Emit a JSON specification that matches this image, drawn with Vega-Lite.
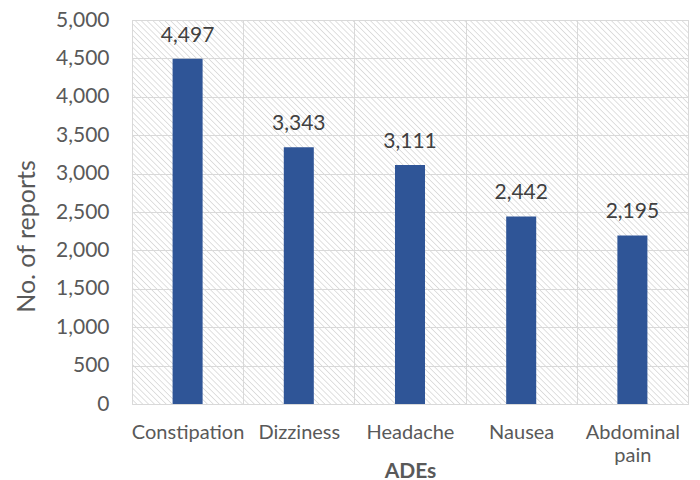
{
  "$schema": "https://vega.github.io/schema/vega-lite/v6.json",
  "width": 556,
  "height": 384,
  "autosize": "none",
  "padding": {"left": 132, "top": 20, "right": 12, "bottom": 76},
  "background": "white",
  "config": {
    "font": "Lato",
    "view": {
      "stroke": "#d9d9d9",
      "fill": {
        "gradient": "linear", "x1": 0, "y1": 1, "x2": 1.145, "y2": 0.209,
        "stops": [
{"offset":0,"color":"#fff"},{"offset":0.00375,"color":"#fff"},{"offset":0.005,"color":"#dadada"},{"offset":0.00625,"color":"#fff"},{"offset":0.01,"color":"#fff"},{"offset":0.01125,"color":"#dadada"},{"offset":0.0125,"color":"#fff"},{"offset":0.01625,"color":"#fff"},{"offset":0.0175,"color":"#dadada"},{"offset":0.01875,"color":"#fff"},{"offset":0.0225,"color":"#fff"},{"offset":0.02375,"color":"#dadada"},
{"offset":0.025,"color":"#fff"},{"offset":0.02875,"color":"#fff"},{"offset":0.03,"color":"#dadada"},{"offset":0.03125,"color":"#fff"},{"offset":0.035,"color":"#fff"},{"offset":0.03625,"color":"#dadada"},{"offset":0.0375,"color":"#fff"},{"offset":0.04125,"color":"#fff"},{"offset":0.0425,"color":"#dadada"},{"offset":0.04375,"color":"#fff"},{"offset":0.0475,"color":"#fff"},{"offset":0.04875,"color":"#dadada"},
{"offset":0.05,"color":"#fff"},{"offset":0.05375,"color":"#fff"},{"offset":0.055,"color":"#dadada"},{"offset":0.05625,"color":"#fff"},{"offset":0.06,"color":"#fff"},{"offset":0.06125,"color":"#dadada"},{"offset":0.0625,"color":"#fff"},{"offset":0.06625,"color":"#fff"},{"offset":0.0675,"color":"#dadada"},{"offset":0.06875,"color":"#fff"},{"offset":0.0725,"color":"#fff"},{"offset":0.07375,"color":"#dadada"},
{"offset":0.075,"color":"#fff"},{"offset":0.07875,"color":"#fff"},{"offset":0.08,"color":"#dadada"},{"offset":0.08125,"color":"#fff"},{"offset":0.085,"color":"#fff"},{"offset":0.08625,"color":"#dadada"},{"offset":0.0875,"color":"#fff"},{"offset":0.09125,"color":"#fff"},{"offset":0.0925,"color":"#dadada"},{"offset":0.09375,"color":"#fff"},{"offset":0.0975,"color":"#fff"},{"offset":0.09875,"color":"#dadada"},
{"offset":0.1,"color":"#fff"},{"offset":0.10375,"color":"#fff"},{"offset":0.105,"color":"#dadada"},{"offset":0.10625,"color":"#fff"},{"offset":0.11,"color":"#fff"},{"offset":0.11125,"color":"#dadada"},{"offset":0.1125,"color":"#fff"},{"offset":0.11625,"color":"#fff"},{"offset":0.1175,"color":"#dadada"},{"offset":0.11875,"color":"#fff"},{"offset":0.1225,"color":"#fff"},{"offset":0.12375,"color":"#dadada"},
{"offset":0.125,"color":"#fff"},{"offset":0.12875,"color":"#fff"},{"offset":0.13,"color":"#dadada"},{"offset":0.13125,"color":"#fff"},{"offset":0.135,"color":"#fff"},{"offset":0.13625,"color":"#dadada"},{"offset":0.1375,"color":"#fff"},{"offset":0.14125,"color":"#fff"},{"offset":0.1425,"color":"#dadada"},{"offset":0.14375,"color":"#fff"},{"offset":0.1475,"color":"#fff"},{"offset":0.14875,"color":"#dadada"},
{"offset":0.15,"color":"#fff"},{"offset":0.15375,"color":"#fff"},{"offset":0.155,"color":"#dadada"},{"offset":0.15625,"color":"#fff"},{"offset":0.16,"color":"#fff"},{"offset":0.16125,"color":"#dadada"},{"offset":0.1625,"color":"#fff"},{"offset":0.16625,"color":"#fff"},{"offset":0.1675,"color":"#dadada"},{"offset":0.16875,"color":"#fff"},{"offset":0.1725,"color":"#fff"},{"offset":0.17375,"color":"#dadada"},
{"offset":0.175,"color":"#fff"},{"offset":0.17875,"color":"#fff"},{"offset":0.18,"color":"#dadada"},{"offset":0.18125,"color":"#fff"},{"offset":0.185,"color":"#fff"},{"offset":0.18625,"color":"#dadada"},{"offset":0.1875,"color":"#fff"},{"offset":0.19125,"color":"#fff"},{"offset":0.1925,"color":"#dadada"},{"offset":0.19375,"color":"#fff"},{"offset":0.1975,"color":"#fff"},{"offset":0.19875,"color":"#dadada"},
{"offset":0.2,"color":"#fff"},{"offset":0.20375,"color":"#fff"},{"offset":0.205,"color":"#dadada"},{"offset":0.20625,"color":"#fff"},{"offset":0.21,"color":"#fff"},{"offset":0.21125,"color":"#dadada"},{"offset":0.2125,"color":"#fff"},{"offset":0.21625,"color":"#fff"},{"offset":0.2175,"color":"#dadada"},{"offset":0.21875,"color":"#fff"},{"offset":0.2225,"color":"#fff"},{"offset":0.22375,"color":"#dadada"},
{"offset":0.225,"color":"#fff"},{"offset":0.22875,"color":"#fff"},{"offset":0.23,"color":"#dadada"},{"offset":0.23125,"color":"#fff"},{"offset":0.235,"color":"#fff"},{"offset":0.23625,"color":"#dadada"},{"offset":0.2375,"color":"#fff"},{"offset":0.24125,"color":"#fff"},{"offset":0.2425,"color":"#dadada"},{"offset":0.24375,"color":"#fff"},{"offset":0.2475,"color":"#fff"},{"offset":0.24875,"color":"#dadada"},
{"offset":0.25,"color":"#fff"},{"offset":0.25375,"color":"#fff"},{"offset":0.255,"color":"#dadada"},{"offset":0.25625,"color":"#fff"},{"offset":0.26,"color":"#fff"},{"offset":0.26125,"color":"#dadada"},{"offset":0.2625,"color":"#fff"},{"offset":0.26625,"color":"#fff"},{"offset":0.2675,"color":"#dadada"},{"offset":0.26875,"color":"#fff"},{"offset":0.2725,"color":"#fff"},{"offset":0.27375,"color":"#dadada"},
{"offset":0.275,"color":"#fff"},{"offset":0.27875,"color":"#fff"},{"offset":0.28,"color":"#dadada"},{"offset":0.28125,"color":"#fff"},{"offset":0.285,"color":"#fff"},{"offset":0.28625,"color":"#dadada"},{"offset":0.2875,"color":"#fff"},{"offset":0.29125,"color":"#fff"},{"offset":0.2925,"color":"#dadada"},{"offset":0.29375,"color":"#fff"},{"offset":0.2975,"color":"#fff"},{"offset":0.29875,"color":"#dadada"},
{"offset":0.3,"color":"#fff"},{"offset":0.30375,"color":"#fff"},{"offset":0.305,"color":"#dadada"},{"offset":0.30625,"color":"#fff"},{"offset":0.31,"color":"#fff"},{"offset":0.31125,"color":"#dadada"},{"offset":0.3125,"color":"#fff"},{"offset":0.31625,"color":"#fff"},{"offset":0.3175,"color":"#dadada"},{"offset":0.31875,"color":"#fff"},{"offset":0.3225,"color":"#fff"},{"offset":0.32375,"color":"#dadada"},
{"offset":0.325,"color":"#fff"},{"offset":0.32875,"color":"#fff"},{"offset":0.33,"color":"#dadada"},{"offset":0.33125,"color":"#fff"},{"offset":0.335,"color":"#fff"},{"offset":0.33625,"color":"#dadada"},{"offset":0.3375,"color":"#fff"},{"offset":0.34125,"color":"#fff"},{"offset":0.3425,"color":"#dadada"},{"offset":0.34375,"color":"#fff"},{"offset":0.3475,"color":"#fff"},{"offset":0.34875,"color":"#dadada"},
{"offset":0.35,"color":"#fff"},{"offset":0.35375,"color":"#fff"},{"offset":0.355,"color":"#dadada"},{"offset":0.35625,"color":"#fff"},{"offset":0.36,"color":"#fff"},{"offset":0.36125,"color":"#dadada"},{"offset":0.3625,"color":"#fff"},{"offset":0.36625,"color":"#fff"},{"offset":0.3675,"color":"#dadada"},{"offset":0.36875,"color":"#fff"},{"offset":0.3725,"color":"#fff"},{"offset":0.37375,"color":"#dadada"},
{"offset":0.375,"color":"#fff"},{"offset":0.37875,"color":"#fff"},{"offset":0.38,"color":"#dadada"},{"offset":0.38125,"color":"#fff"},{"offset":0.385,"color":"#fff"},{"offset":0.38625,"color":"#dadada"},{"offset":0.3875,"color":"#fff"},{"offset":0.39125,"color":"#fff"},{"offset":0.3925,"color":"#dadada"},{"offset":0.39375,"color":"#fff"},{"offset":0.3975,"color":"#fff"},{"offset":0.39875,"color":"#dadada"},
{"offset":0.4,"color":"#fff"},{"offset":0.40375,"color":"#fff"},{"offset":0.405,"color":"#dadada"},{"offset":0.40625,"color":"#fff"},{"offset":0.41,"color":"#fff"},{"offset":0.41125,"color":"#dadada"},{"offset":0.4125,"color":"#fff"},{"offset":0.41625,"color":"#fff"},{"offset":0.4175,"color":"#dadada"},{"offset":0.41875,"color":"#fff"},{"offset":0.4225,"color":"#fff"},{"offset":0.42375,"color":"#dadada"},
{"offset":0.425,"color":"#fff"},{"offset":0.42875,"color":"#fff"},{"offset":0.43,"color":"#dadada"},{"offset":0.43125,"color":"#fff"},{"offset":0.435,"color":"#fff"},{"offset":0.43625,"color":"#dadada"},{"offset":0.4375,"color":"#fff"},{"offset":0.44125,"color":"#fff"},{"offset":0.4425,"color":"#dadada"},{"offset":0.44375,"color":"#fff"},{"offset":0.4475,"color":"#fff"},{"offset":0.44875,"color":"#dadada"},
{"offset":0.45,"color":"#fff"},{"offset":0.45375,"color":"#fff"},{"offset":0.455,"color":"#dadada"},{"offset":0.45625,"color":"#fff"},{"offset":0.46,"color":"#fff"},{"offset":0.46125,"color":"#dadada"},{"offset":0.4625,"color":"#fff"},{"offset":0.46625,"color":"#fff"},{"offset":0.4675,"color":"#dadada"},{"offset":0.46875,"color":"#fff"},{"offset":0.4725,"color":"#fff"},{"offset":0.47375,"color":"#dadada"},
{"offset":0.475,"color":"#fff"},{"offset":0.47875,"color":"#fff"},{"offset":0.48,"color":"#dadada"},{"offset":0.48125,"color":"#fff"},{"offset":0.485,"color":"#fff"},{"offset":0.48625,"color":"#dadada"},{"offset":0.4875,"color":"#fff"},{"offset":0.49125,"color":"#fff"},{"offset":0.4925,"color":"#dadada"},{"offset":0.49375,"color":"#fff"},{"offset":0.4975,"color":"#fff"},{"offset":0.49875,"color":"#dadada"},
{"offset":0.5,"color":"#fff"},{"offset":0.50375,"color":"#fff"},{"offset":0.505,"color":"#dadada"},{"offset":0.50625,"color":"#fff"},{"offset":0.51,"color":"#fff"},{"offset":0.51125,"color":"#dadada"},{"offset":0.5125,"color":"#fff"},{"offset":0.51625,"color":"#fff"},{"offset":0.5175,"color":"#dadada"},{"offset":0.51875,"color":"#fff"},{"offset":0.5225,"color":"#fff"},{"offset":0.52375,"color":"#dadada"},
{"offset":0.525,"color":"#fff"},{"offset":0.52875,"color":"#fff"},{"offset":0.53,"color":"#dadada"},{"offset":0.53125,"color":"#fff"},{"offset":0.535,"color":"#fff"},{"offset":0.53625,"color":"#dadada"},{"offset":0.5375,"color":"#fff"},{"offset":0.54125,"color":"#fff"},{"offset":0.5425,"color":"#dadada"},{"offset":0.54375,"color":"#fff"},{"offset":0.5475,"color":"#fff"},{"offset":0.54875,"color":"#dadada"},
{"offset":0.55,"color":"#fff"},{"offset":0.55375,"color":"#fff"},{"offset":0.555,"color":"#dadada"},{"offset":0.55625,"color":"#fff"},{"offset":0.56,"color":"#fff"},{"offset":0.56125,"color":"#dadada"},{"offset":0.5625,"color":"#fff"},{"offset":0.56625,"color":"#fff"},{"offset":0.5675,"color":"#dadada"},{"offset":0.56875,"color":"#fff"},{"offset":0.5725,"color":"#fff"},{"offset":0.57375,"color":"#dadada"},
{"offset":0.575,"color":"#fff"},{"offset":0.57875,"color":"#fff"},{"offset":0.58,"color":"#dadada"},{"offset":0.58125,"color":"#fff"},{"offset":0.585,"color":"#fff"},{"offset":0.58625,"color":"#dadada"},{"offset":0.5875,"color":"#fff"},{"offset":0.59125,"color":"#fff"},{"offset":0.5925,"color":"#dadada"},{"offset":0.59375,"color":"#fff"},{"offset":0.5975,"color":"#fff"},{"offset":0.59875,"color":"#dadada"},
{"offset":0.6,"color":"#fff"},{"offset":0.60375,"color":"#fff"},{"offset":0.605,"color":"#dadada"},{"offset":0.60625,"color":"#fff"},{"offset":0.61,"color":"#fff"},{"offset":0.61125,"color":"#dadada"},{"offset":0.6125,"color":"#fff"},{"offset":0.61625,"color":"#fff"},{"offset":0.6175,"color":"#dadada"},{"offset":0.61875,"color":"#fff"},{"offset":0.6225,"color":"#fff"},{"offset":0.62375,"color":"#dadada"},
{"offset":0.625,"color":"#fff"},{"offset":0.62875,"color":"#fff"},{"offset":0.63,"color":"#dadada"},{"offset":0.63125,"color":"#fff"},{"offset":0.635,"color":"#fff"},{"offset":0.63625,"color":"#dadada"},{"offset":0.6375,"color":"#fff"},{"offset":0.64125,"color":"#fff"},{"offset":0.6425,"color":"#dadada"},{"offset":0.64375,"color":"#fff"},{"offset":0.6475,"color":"#fff"},{"offset":0.64875,"color":"#dadada"},
{"offset":0.65,"color":"#fff"},{"offset":0.65375,"color":"#fff"},{"offset":0.655,"color":"#dadada"},{"offset":0.65625,"color":"#fff"},{"offset":0.66,"color":"#fff"},{"offset":0.66125,"color":"#dadada"},{"offset":0.6625,"color":"#fff"},{"offset":0.66625,"color":"#fff"},{"offset":0.6675,"color":"#dadada"},{"offset":0.66875,"color":"#fff"},{"offset":0.6725,"color":"#fff"},{"offset":0.67375,"color":"#dadada"},
{"offset":0.675,"color":"#fff"},{"offset":0.67875,"color":"#fff"},{"offset":0.68,"color":"#dadada"},{"offset":0.68125,"color":"#fff"},{"offset":0.685,"color":"#fff"},{"offset":0.68625,"color":"#dadada"},{"offset":0.6875,"color":"#fff"},{"offset":0.69125,"color":"#fff"},{"offset":0.6925,"color":"#dadada"},{"offset":0.69375,"color":"#fff"},{"offset":0.6975,"color":"#fff"},{"offset":0.69875,"color":"#dadada"},
{"offset":0.7,"color":"#fff"},{"offset":0.70375,"color":"#fff"},{"offset":0.705,"color":"#dadada"},{"offset":0.70625,"color":"#fff"},{"offset":0.71,"color":"#fff"},{"offset":0.71125,"color":"#dadada"},{"offset":0.7125,"color":"#fff"},{"offset":0.71625,"color":"#fff"},{"offset":0.7175,"color":"#dadada"},{"offset":0.71875,"color":"#fff"},{"offset":0.7225,"color":"#fff"},{"offset":0.72375,"color":"#dadada"},
{"offset":0.725,"color":"#fff"},{"offset":0.72875,"color":"#fff"},{"offset":0.73,"color":"#dadada"},{"offset":0.73125,"color":"#fff"},{"offset":0.735,"color":"#fff"},{"offset":0.73625,"color":"#dadada"},{"offset":0.7375,"color":"#fff"},{"offset":0.74125,"color":"#fff"},{"offset":0.7425,"color":"#dadada"},{"offset":0.74375,"color":"#fff"},{"offset":0.7475,"color":"#fff"},{"offset":0.74875,"color":"#dadada"},
{"offset":0.75,"color":"#fff"},{"offset":0.75375,"color":"#fff"},{"offset":0.755,"color":"#dadada"},{"offset":0.75625,"color":"#fff"},{"offset":0.76,"color":"#fff"},{"offset":0.76125,"color":"#dadada"},{"offset":0.7625,"color":"#fff"},{"offset":0.76625,"color":"#fff"},{"offset":0.7675,"color":"#dadada"},{"offset":0.76875,"color":"#fff"},{"offset":0.7725,"color":"#fff"},{"offset":0.77375,"color":"#dadada"},
{"offset":0.775,"color":"#fff"},{"offset":0.77875,"color":"#fff"},{"offset":0.78,"color":"#dadada"},{"offset":0.78125,"color":"#fff"},{"offset":0.785,"color":"#fff"},{"offset":0.78625,"color":"#dadada"},{"offset":0.7875,"color":"#fff"},{"offset":0.79125,"color":"#fff"},{"offset":0.7925,"color":"#dadada"},{"offset":0.79375,"color":"#fff"},{"offset":0.7975,"color":"#fff"},{"offset":0.79875,"color":"#dadada"},
{"offset":0.8,"color":"#fff"},{"offset":0.80375,"color":"#fff"},{"offset":0.805,"color":"#dadada"},{"offset":0.80625,"color":"#fff"},{"offset":0.81,"color":"#fff"},{"offset":0.81125,"color":"#dadada"},{"offset":0.8125,"color":"#fff"},{"offset":0.81625,"color":"#fff"},{"offset":0.8175,"color":"#dadada"},{"offset":0.81875,"color":"#fff"},{"offset":0.8225,"color":"#fff"},{"offset":0.82375,"color":"#dadada"},
{"offset":0.825,"color":"#fff"},{"offset":0.82875,"color":"#fff"},{"offset":0.83,"color":"#dadada"},{"offset":0.83125,"color":"#fff"},{"offset":0.835,"color":"#fff"},{"offset":0.83625,"color":"#dadada"},{"offset":0.8375,"color":"#fff"},{"offset":0.84125,"color":"#fff"},{"offset":0.8425,"color":"#dadada"},{"offset":0.84375,"color":"#fff"},{"offset":0.8475,"color":"#fff"},{"offset":0.84875,"color":"#dadada"},
{"offset":0.85,"color":"#fff"},{"offset":0.85375,"color":"#fff"},{"offset":0.855,"color":"#dadada"},{"offset":0.85625,"color":"#fff"},{"offset":0.86,"color":"#fff"},{"offset":0.86125,"color":"#dadada"},{"offset":0.8625,"color":"#fff"},{"offset":0.86625,"color":"#fff"},{"offset":0.8675,"color":"#dadada"},{"offset":0.86875,"color":"#fff"},{"offset":0.8725,"color":"#fff"},{"offset":0.87375,"color":"#dadada"},
{"offset":0.875,"color":"#fff"},{"offset":0.87875,"color":"#fff"},{"offset":0.88,"color":"#dadada"},{"offset":0.88125,"color":"#fff"},{"offset":0.885,"color":"#fff"},{"offset":0.88625,"color":"#dadada"},{"offset":0.8875,"color":"#fff"},{"offset":0.89125,"color":"#fff"},{"offset":0.8925,"color":"#dadada"},{"offset":0.89375,"color":"#fff"},{"offset":0.8975,"color":"#fff"},{"offset":0.89875,"color":"#dadada"},
{"offset":0.9,"color":"#fff"},{"offset":0.90375,"color":"#fff"},{"offset":0.905,"color":"#dadada"},{"offset":0.90625,"color":"#fff"},{"offset":0.91,"color":"#fff"},{"offset":0.91125,"color":"#dadada"},{"offset":0.9125,"color":"#fff"},{"offset":0.91625,"color":"#fff"},{"offset":0.9175,"color":"#dadada"},{"offset":0.91875,"color":"#fff"},{"offset":0.9225,"color":"#fff"},{"offset":0.92375,"color":"#dadada"},
{"offset":0.925,"color":"#fff"},{"offset":0.92875,"color":"#fff"},{"offset":0.93,"color":"#dadada"},{"offset":0.93125,"color":"#fff"},{"offset":0.935,"color":"#fff"},{"offset":0.93625,"color":"#dadada"},{"offset":0.9375,"color":"#fff"},{"offset":0.94125,"color":"#fff"},{"offset":0.9425,"color":"#dadada"},{"offset":0.94375,"color":"#fff"},{"offset":0.9475,"color":"#fff"},{"offset":0.94875,"color":"#dadada"},
{"offset":0.95,"color":"#fff"},{"offset":0.95375,"color":"#fff"},{"offset":0.955,"color":"#dadada"},{"offset":0.95625,"color":"#fff"},{"offset":0.96,"color":"#fff"},{"offset":0.96125,"color":"#dadada"},{"offset":0.9625,"color":"#fff"},{"offset":0.96625,"color":"#fff"},{"offset":0.9675,"color":"#dadada"},{"offset":0.96875,"color":"#fff"},{"offset":0.9725,"color":"#fff"},{"offset":0.97375,"color":"#dadada"},
{"offset":0.975,"color":"#fff"},{"offset":0.97875,"color":"#fff"},{"offset":0.98,"color":"#dadada"},{"offset":0.98125,"color":"#fff"},{"offset":0.985,"color":"#fff"},{"offset":0.98625,"color":"#dadada"},{"offset":0.9875,"color":"#fff"},{"offset":0.99125,"color":"#fff"},{"offset":0.9925,"color":"#dadada"},{"offset":0.99375,"color":"#fff"},{"offset":0.9975,"color":"#fff"},{"offset":0.99875,"color":"#dadada"},
{"offset":1,"color":"#fff"}
        ]
      }
    }
  },
  "data": {
    "values": [
      {"ade": "Constipation", "reports": 4497},
      {"ade": "Dizziness", "reports": 3343},
      {"ade": "Headache", "reports": 3111},
      {"ade": "Nausea", "reports": 2442},
      {"ade": "Abdominal pain", "reports": 2195}
    ]
  },
  "encoding": {
    "x": {
      "field": "ade", "type": "nominal", "sort": null,
      "scale": {"paddingInner": 0, "paddingOuter": 0},
      "axis": {
        "title": "ADEs", "labelAngle": 0, "domain": false, "ticks": false,
        "grid": true, "tickBand": "extent", "gridColor": "#d9d9d9", "gridWidth": 1,
        "labelFont": "Lato", "labelFontSize": 20, "labelColor": "#595959",
        "labelPadding": 18, "labelLineHeight": 23, "labelBaseline": "top",
        "labelExpr": "datum.value == 'Abdominal pain' ? ['Abdominal', 'pain'] : datum.value",
        "titleFont": "Lato", "titleFontSize": 21, "titleFontWeight": "bold",
        "titleColor": "#595959", "titleY": 73, "titleBaseline": "alphabetic"
      }
    },
    "y": {
      "field": "reports", "type": "quantitative",
      "scale": {"domain": [0, 5000]},
      "axis": {
        "title": "No. of reports", "values": [0, 500, 1000, 1500, 2000, 2500, 3000, 3500, 4000, 4500, 5000],
        "format": ",.0f", "domain": false, "ticks": false,
        "grid": true, "gridColor": "#d9d9d9", "gridWidth": 1,
        "labelFont": "Lato", "labelFontSize": 21, "labelColor": "#595959", "labelPadding": 23,
        "titleFont": "Lato", "titleFontSize": 25, "titleFontWeight": "normal", "titleColor": "#595959",
        "titleX": -106, "titleY": 216, "titleAlign": "center", "titleBaseline": "middle", "titleAngle": -90
      }
    }
  },
  "layer": [
    {"mark": {"type": "bar", "color": "#2f5597", "width": {"band": 0.27}}},
    {
      "mark": {"type": "text", "font": "Lato", "fontSize": 21, "color": "#404040", "baseline": "alphabetic", "dy": -17},
      "encoding": {"text": {"field": "reports", "type": "quantitative", "format": ","}}
    }
  ]
}
